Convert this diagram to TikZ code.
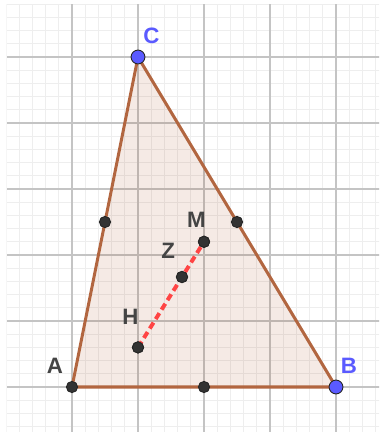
\documentclass[tikz,border=0pt]{standalone}
\usepackage{fontspec}
\setmainfont{Liberation Sans}
\definecolor{edgec}{RGB}{178,102,64}
\definecolor{fillc}{RGB}{153,51,0}
\definecolor{blu}{RGB}{90,90,255}
\definecolor{ptc}{RGB}{51,51,51}
\definecolor{lab}{RGB}{68,68,68}
\definecolor{minorc}{RGB}{238,238,238}
\definecolor{majorc}{RGB}{196,196,196}
\definecolor{euler}{RGB}{255,68,68}
\begin{document}
\begin{tikzpicture}[x=1cm,y=1cm,
 pt/.style={circle,fill=ptc,draw=black!85,line width=0.4pt,inner sep=0pt,minimum size=0.17cm},
 bpt/.style={circle,fill=blu,draw=black!85,line width=0.4pt,inner sep=0pt,minimum size=0.21cm},
 lbl/.style={text=lab,font=\fontsize{9.6}{11}\selectfont\bfseries,inner sep=0pt},
 blbl/.style={lbl,text=blu},
 side/.style={draw=edgec,line width=1.3pt,line join=round},
 eulerline/.style={draw=euler,line width=1.7pt,dash pattern=on 3pt off 1.8pt}
]
\useasboundingbox (-1.0909,-0.6818) rectangle (4.6515,5.8636);
\begin{scope}
\clip (-0.985,-0.6818) rectangle (4.6515,5.788);
\draw[minorc,line width=0.45pt,step=0.2] (-1.2,-0.8) grid (4.8,6);
\draw[majorc,line width=0.6pt,step=1] (-1.2,-0.8) grid (4.8,6);
\end{scope}
% triangle
\coordinate (A) at (0,0);
\coordinate (B) at (4,0);
\coordinate (C) at (1,5);
\fill[fillc,opacity=0.1] (A)--(B)--(C)--cycle;
\draw[side] (A)--(B)--(C)--cycle;
% special points
\node[pt] (H) at (1,0.6) {};
\node[pt] (Z) at (5/3,5/3) {};
\node[pt] (M) at (2,2.2) {};
\draw[eulerline] (H.center)--(M.center);
\node[pt] (H2) at (H) {};
\node[pt] (Z2) at (Z) {};
\node[pt] (M2) at (M) {};
% midpoints
\node[pt] (mAB) at (2,0) {};
\node[pt] (mAC) at (0.5,2.5) {};
\node[pt] (mBC) at (2.5,2.5) {};
% vertices
\node[pt] (pA) at (A) {};
\node[bpt] (pB) at (B) {};
\node[bpt] (pC) at (C) {};
% labels
\node[blbl] (lC) at (1.2045,5.326) {C};
\node[blbl] (lB) at (4.197,0.318) {B};
\node[lbl] (lA) at (-0.258,0.326) {A};
\node[lbl] (lH) at (0.886,1.068) {H};
\node[lbl] (lM) at (1.886,2.538) {M};
\node[lbl] (lZ) at (1.459,2.061) {Z};
\end{tikzpicture}
\end{document}
